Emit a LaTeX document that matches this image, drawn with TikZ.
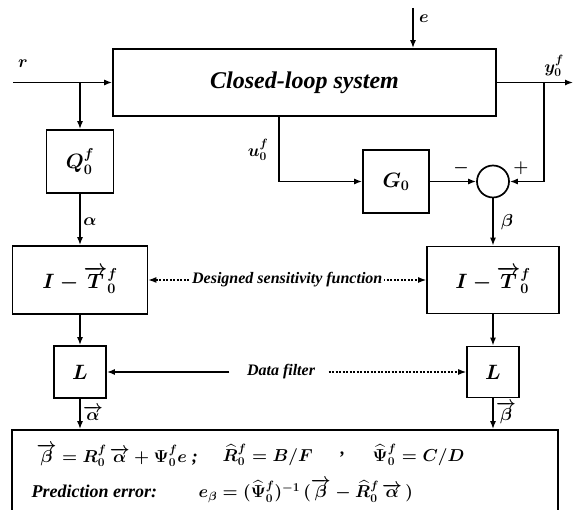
\documentclass[tikz,border=0pt]{standalone}
\usepackage{amsmath,amssymb}
\usepackage{fontspec}
\setmainfont{Liberation Serif}
\usetikzlibrary{arrows.meta,positioning}

\begin{document}
\begin{tikzpicture}[x=1pt, y=-1pt, line width=1.4pt, >={Latex[length=8pt,width=6pt]},
  blk/.style={draw, line width=1.7pt, inner sep=0pt, font=\fontsize{22}{26}\selectfont\bfseries\itshape\boldmath},
  lbl/.style={inner sep=1pt, font=\fontsize{18}{21}\selectfont\bfseries\itshape\boldmath},
  note/.style={fill=white, inner sep=2pt, font=\fontsize{16}{19}\selectfont\bfseries\itshape},
  eqn/.style={anchor=west, inner sep=0pt, font=\fontsize{18}{21}\selectfont\bfseries\itshape\boldmath},
  dots/.style={dash pattern=on 2pt off 1.5pt, line width=1.2pt}]
\useasboundingbox (0,0) rectangle (574,510);

\node[blk, minimum width=383pt, minimum height=67pt, font=\fontsize{24}{28}\selectfont\bfseries\itshape] (cls) at (304.5,82.5) {Closed-loop system};
\node[blk, minimum width=67pt, minimum height=63pt] (Q) at (80,161.5) {$Q_0^f$};
\node[blk, minimum width=66pt, minimum height=63pt] (G) at (396,181.5) {$G_0$};
\node[draw, circle, line width=1.7pt, minimum size=32pt, inner sep=0pt] (sum) at (493,181.5) {};
\node[blk, minimum width=135pt, minimum height=68pt] (IT1) at (80,280) {$I-\overrightarrow{T}{}_0^f$};
\node[blk, minimum width=132pt, minimum height=67pt] (IT2) at (493,280) {$I-\overrightarrow{T}{}_0^f$};
\node[blk, minimum width=52pt, minimum height=52pt] (L1) at (80,372) {$L$};
\node[blk, minimum width=52pt, minimum height=51pt] (L2) at (493,372) {$L$};
\node[blk, minimum width=546pt, minimum height=100pt] (est) at (285,480) {};

\coordinate (rin) at (13,82.5);
\coordinate (ein) at (413,8);
\coordinate (yout) at (573,82.5);
\coordinate (fb) at (544,82.5);
\coordinate (uout) at (279,116);

\draw[->] (rin) -- (cls);
\draw[->] (rin -| Q) -- (Q);
\draw[->] (ein) -- (ein |- cls.north);
\draw[->] (cls) -- (yout);
\draw[->] (fb) |- (sum);
\draw[->] (uout) |- (G);
\draw[->] (G) -- (sum);
\draw[->] (sum) -- (IT2);
\draw[->] (Q) -- (IT1);
\draw[->] (IT1) -- (L1);
\draw[->] (IT2) -- (L2);
\draw[->] (L1) -- (L1 |- est.north);
\draw[->] (L2) -- (L2 |- est.north);
\draw[<->, dots] (IT1) -- (IT2) node[note, midway] {Designed sensitivity function};
\node[note] (df) at (281,372) {Data filter};
\draw[->, shorten <=15pt] (df.west) -- (L1);
\draw[->, dots, shorten <=11pt] (df.east) -- (L2);

\node[lbl] (r) at (23,64) {$r$};
\node[lbl] (e) at (424,19) {$e$};
\node[lbl] (y) at (554,66) {$y_0^f$};
\node[lbl] (u) at (258,150) {$u_0^f$};
\node[lbl] (minus) at (461,168) {$-$};
\node[lbl] (plus) at (521,168) {$+$};
\node[lbl] (a) at (90,222) {$\alpha$};
\node[lbl] (b) at (507,222) {$\beta$};
\node[lbl] (ab) at (93,413) {$\overrightarrow{\alpha}$};
\node[lbl] (bb) at (506,413) {$\overrightarrow{\beta}$};

\node[eqn] (eqa) at (36,455) {$\overrightarrow{\beta}=R_0^f\,\overrightarrow{\alpha}+\Psi_0^f e$\;;};
\node[eqn] (eqb) at (222,455) {$\widehat{R}{}_0^f=B/F$};
\node[eqn] (eqc) at (340,455) {,};
\node[eqn] (eqd) at (372,455) {$\widehat{\Psi}{}_0^f=C/D$};
\node[eqn] (perr) at (31,491) {Prediction error:};
\node[eqn] (eqe) at (198,491) {$e_\beta=(\widehat{\Psi}{}_0^f)^{-1}\,(\overrightarrow{\beta}-\widehat{R}{}_0^f\,\overrightarrow{\alpha}\,)$};
\end{tikzpicture}
\end{document}
